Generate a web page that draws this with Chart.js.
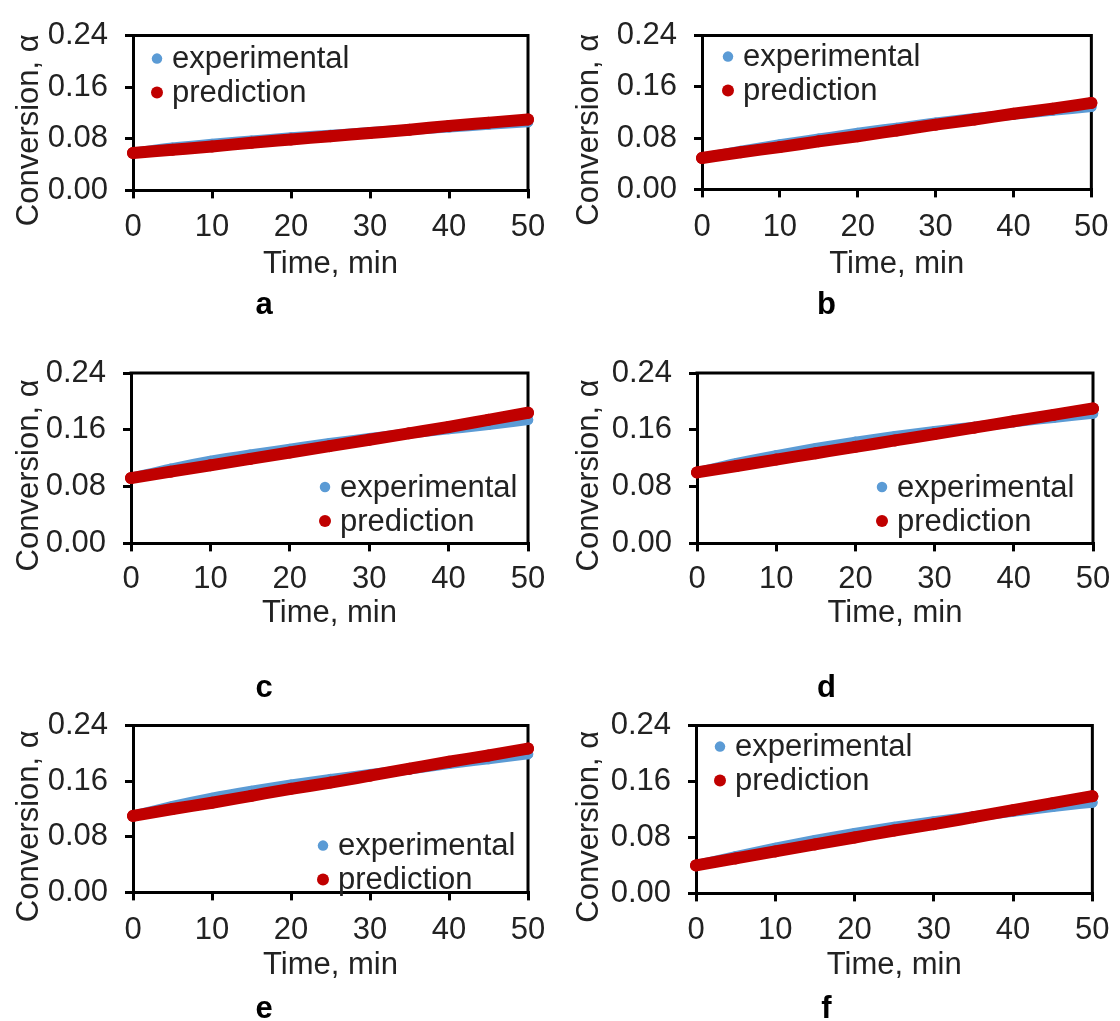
<!DOCTYPE html>
<html>
<head>
<meta charset="utf-8">
<script src="https://cdn.jsdelivr.net/npm/chart.js@4/dist/chart.umd.min.js"></script>
<style>
  body { margin: 0; background: #fff; width: 1120px; height: 1021px; position: relative; overflow: hidden; }
  canvas { position: absolute; }
</style>
</head>
<body>
<canvas id="pa"></canvas>
<canvas id="pb"></canvas>
<canvas id="pc"></canvas>
<canvas id="pd"></canvas>
<canvas id="pe"></canvas>
<canvas id="pf"></canvas>
<script>
// time axis (min)
const time = [0, 5, 10, 15, 20, 25, 30, 35, 40, 45, 50];
const yTicks = [0, 0.08, 0.16, 0.24];
const xTicks = [0, 10, 20, 30, 40, 50];

// conversion
const expA  = [0.058, 0.066, 0.072, 0.077, 0.082, 0.086, 0.090, 0.094, 0.098, 0.102, 0.106];
const predA = [0.058, 0.063, 0.068, 0.074, 0.079, 0.084, 0.089, 0.094, 0.100, 0.105, 0.110];
const expB  = [0.049, 0.060, 0.070, 0.079, 0.088, 0.096, 0.104, 0.111, 0.117, 0.123, 0.129];
const predB = [0.049, 0.058, 0.066, 0.075, 0.083, 0.092, 0.101, 0.109, 0.118, 0.126, 0.135];
const expC  = [0.092, 0.105, 0.116, 0.125, 0.133, 0.141, 0.148, 0.155, 0.161, 0.167, 0.174];
const predC = [0.092, 0.101, 0.110, 0.119, 0.128, 0.137, 0.146, 0.155, 0.164, 0.174, 0.184];
const expD  = [0.100, 0.113, 0.124, 0.134, 0.143, 0.151, 0.158, 0.164, 0.171, 0.177, 0.183];
const predD = [0.100, 0.109, 0.118, 0.127, 0.136, 0.145, 0.154, 0.163, 0.172, 0.181, 0.190];
const expE  = [0.110, 0.124, 0.136, 0.146, 0.155, 0.163, 0.170, 0.177, 0.185, 0.192, 0.199];
const predE = [0.110, 0.120, 0.129, 0.139, 0.149, 0.158, 0.168, 0.178, 0.188, 0.197, 0.207];
const expF  = [0.040, 0.053, 0.065, 0.076, 0.086, 0.095, 0.103, 0.110, 0.117, 0.124, 0.130];
const predF = [0.040, 0.050, 0.060, 0.070, 0.080, 0.090, 0.099, 0.109, 0.119, 0.129, 0.139];

const labels = ["experimental", "prediction"];
const letters = ["a", "b", "c", "d", "e", "f"];

const FONT = "'Liberation Sans', Arial, sans-serif";
const FS = 31, LH = 37.2, TL = 8;
const BLUE = "#5B9BD5", RED = "#C00000", TXT = "#222";

const panels = [
  { id: "pa", exp: expA, pred: predA, ox: 0,   oy: 0,   area: [133, 528, 22, 190],  tickY: 227, titleY: 264, letterY: 305,  leg: [24, 23] },
  { id: "pb", exp: expB, pred: predB, ox: 560, oy: 0,   area: [702, 1093, 22, 189], tickY: 227, titleY: 264, letterY: 305,  leg: [26, 21] },
  { id: "pc", exp: expC, pred: predC, ox: 0,   oy: 330, area: [131, 528, 373, 543], tickY: 579, titleY: 613, letterY: 688,  leg: [194, 114] },
  { id: "pd", exp: expD, pred: predD, ox: 560, oy: 330, area: [697, 1093, 373, 543], tickY: 579, titleY: 613, letterY: 688, leg: [185, 114] },
  { id: "pe", exp: expE, pred: predE, ox: 0,   oy: 690, area: [133, 528, 724, 892], tickY: 930, titleY: 965, letterY: 1009, leg: [190, 120] },
  { id: "pf", exp: expF, pred: predF, ox: 560, oy: 690, area: [696, 1093, 724, 893], tickY: 930, titleY: 965, letterY: 1009, leg: [24, 21] },
];

// top/right frame of the plot box and the in-plot legend
const frameLegend = {
  id: "frameLegend",
  beforeDatasetsDraw(chart) {
    const { ctx, chartArea: a } = chart;
    ctx.save();
    ctx.strokeStyle = "#000";
    ctx.lineWidth = 3;
    ctx.lineCap = "square";
    ctx.beginPath();
    ctx.moveTo(a.left, a.top);
    ctx.lineTo(a.right, a.top);
    ctx.lineTo(a.right, a.bottom);
    ctx.stroke();
    ctx.restore();
  },
  afterDraw(chart, args, opts) {
    const { ctx, chartArea: a } = chart;
    const ds = chart.data.datasets.slice().reverse();
    ctx.save();
    ctx.font = FS + "px " + FONT;
    ctx.textBaseline = "middle";
    ds.forEach((d, i) => {
      const x = a.left + opts.dx, y = a.top + opts.dy + i * 34;
      ctx.fillStyle = d.backgroundColor;
      ctx.beginPath();
      ctx.arc(x, y, d.pointRadius, 0, Math.PI * 2);
      ctx.fill();
      ctx.fillStyle = TXT;
      ctx.fillText(d.label, x + 15, y + 1);
    });
    ctx.restore();
  }
};

panels.forEach((p, k) => {
  const [left, right, top, bottom] = p.area;
  const W = 560;
  const xHeight = p.titleY - bottom + LH / 2;
  const tTop = bottom + xHeight;
  const letterPad = p.letterY - tTop - LH / 2;
  const H = Math.ceil(tTop + letterPad + LH + 2 - p.oy);
  const cv = document.getElementById(p.id);
  cv.width = W; cv.height = H;
  cv.style.left = p.ox + "px"; cv.style.top = p.oy + "px";

  new Chart(cv, {
    type: "scatter",
    data: {
      datasets: [
        { label: labels[1], data: time.map((t, i) => ({ x: t, y: p.pred[i] })),
          backgroundColor: RED, borderColor: RED, borderWidth: 12, pointRadius: 6,
          pointBorderWidth: 0, showLine: true, borderCapStyle: "round",
          cubicInterpolationMode: "monotone", clip: false },
        { label: labels[0], data: time.map((t, i) => ({ x: t, y: p.exp[i] })),
          backgroundColor: BLUE, borderColor: BLUE, borderWidth: 10.5, pointRadius: 5.25,
          pointBorderWidth: 0, showLine: true, borderCapStyle: "round",
          cubicInterpolationMode: "monotone", clip: false },
      ]
    },
    options: {
      responsive: false,
      animation: false,
      events: [],
      layout: { padding: { left: 0, top: top - p.oy, right: p.ox + W - right, bottom: 2 } },
      scales: {
        x: {
          type: "linear", min: 0, max: 50,
          afterBuildTicks: s => { s.ticks = xTicks.map(v => ({ value: v })); },
          afterFit: s => { s.height = xHeight; },
          grid: { display: true, drawOnChartArea: false, drawTicks: true, tickLength: TL, color: "#000", lineWidth: 3 },
          border: { display: true, color: "#000", width: 3 },
          ticks: { color: TXT, font: { family: FONT, size: FS }, padding: p.tickY - bottom - TL - LH / 2, maxRotation: 0 },
          title: { display: true, text: "Time, min", color: TXT, font: { family: FONT, size: FS }, padding: { top: 0, bottom: 0 } }
        },
        y: {
          type: "linear", min: 0, max: 0.24,
          afterBuildTicks: s => { s.ticks = yTicks.map(v => ({ value: v })); },
          afterFit: s => { s.width = left - p.ox; },
          grid: { display: true, drawOnChartArea: false, drawTicks: true, tickLength: TL, color: "#000", lineWidth: 3 },
          border: { display: true, color: "#000", width: 3 },
          ticks: { color: TXT, font: { family: FONT, size: FS }, padding: 17, callback: v => v.toFixed(2) },
          // trailing spaces push the title down along the axis, as in the original
          title: { display: true, text: "Conversion, α\u00a0\u00a0\u00a0\u00a0", color: TXT, font: { family: FONT, size: FS }, padding: { top: 11, bottom: 0 } }
        }
      },
      plugins: {
        legend: { display: false },
        tooltip: { enabled: false },
        title: { display: true, position: "bottom", text: letters[k], color: "#000",
                 font: { family: FONT, size: FS, weight: "bold" }, padding: { top: letterPad, bottom: 0 } },
        frameLegend: { dx: p.leg[0], dy: p.leg[1] }
      }
    },
    plugins: [frameLegend]
  });
});
</script>
</body>
</html>
